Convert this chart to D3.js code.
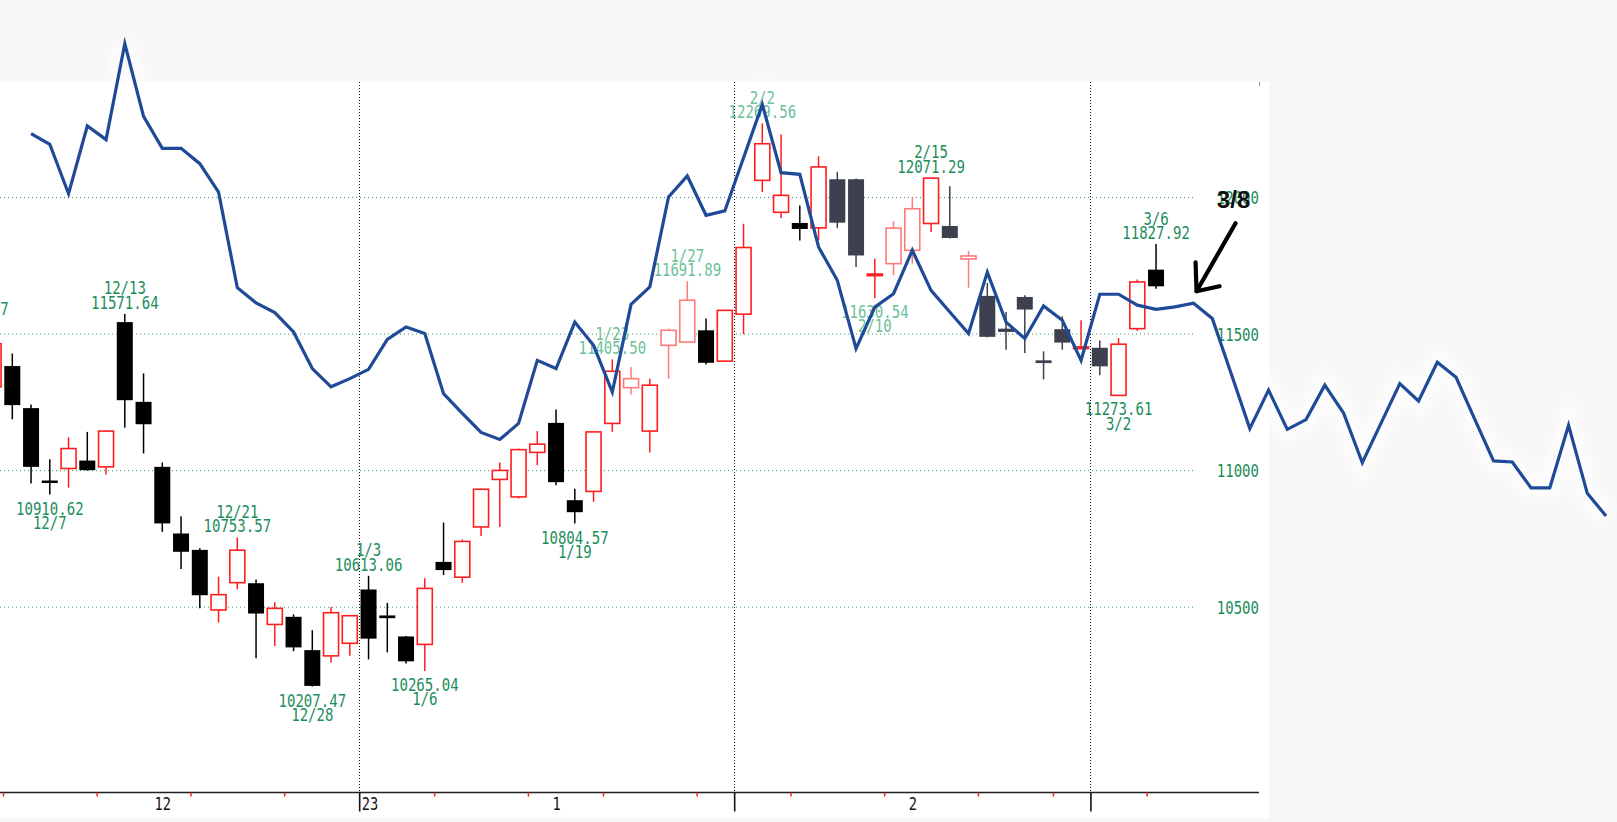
<!DOCTYPE html>
<html><head><meta charset="utf-8">
<script src="https://cdn.jsdelivr.net/npm/d3@7"></script>
<style>html,body{margin:0;padding:0;background:#f7f7f7;overflow:hidden}</style>
</head><body>
<svg id="c" width="1617" height="822"></svg>
<script>
// ---------- data ----------
const dates = [
 "2022-12-01","2022-12-02","2022-12-05","2022-12-06","2022-12-07","2022-12-08","2022-12-09",
 "2022-12-12","2022-12-13","2022-12-14","2022-12-15","2022-12-16","2022-12-19","2022-12-20",
 "2022-12-21","2022-12-22","2022-12-23","2022-12-27","2022-12-28","2022-12-29","2022-12-30",
 "2023-01-03","2023-01-04","2023-01-05","2023-01-06","2023-01-09","2023-01-10","2023-01-11",
 "2023-01-12","2023-01-13","2023-01-17","2023-01-18","2023-01-19","2023-01-20","2023-01-23",
 "2023-01-24","2023-01-25","2023-01-26","2023-01-27","2023-01-30","2023-01-31","2023-02-01",
 "2023-02-02","2023-02-03","2023-02-06","2023-02-07","2023-02-08","2023-02-09","2023-02-10",
 "2023-02-13","2023-02-14","2023-02-15","2023-02-16","2023-02-17","2023-02-21","2023-02-22",
 "2023-02-23","2023-02-24","2023-02-27","2023-02-28","2023-03-01","2023-03-02","2023-03-03",
 "2023-03-06"];
const open  = [11480,11305,11381,11227,10962,11006,11035,11012,11542,11250,11012,10768,10708,10488,
 10588,10586,10435,10463,10341,10320,10366,10563,10468,10391,10362,10664,10608,10792,10966,10902,
 11065,11173,10890,10922,11171,11302,11143,11457,11469,11512,11399,11571,12061,11944,11905,11887,
 12065,12065,11712,11756,11805,11903,11894,11773,11638,11518,11634,11402,11516,11445,11448,11273.61,
 11518,11734];
const high  = [11548.27,11470,11427,11240,11040,11120,11140,11145,11571.64,11354,11028,10831,10714,10610,
 10753.57,10600,10516,10472,10414,10499,10468,10613.06,10514,10393,10604,10808,10746,10932,11028,11079,
 11143,11222,10932,11142,11405.50,11378,11335,11518,11691.89,11555,11587,11902,12269.56,12229,11969,12149,
 12092,12068,11774,11911,11998,12071.29,12039,11803,11685,11579,11640,11435,11563,11549,11475,11484,
 11698,11827.92];
const low   = [11410,11280,11186,10951,10910.62,10936,10998,10984,11155,11061,10774,10638,10494,10442,
 10564,10311,10356,10337,10207.47,10296,10320,10307,10333,10292,10265.04,10616,10587,10759,10792,10896,
 11018,10945,10804.57,10884,11140,11277,11065,11335,11466,11387,11396,11498,12018,11922,11841,11841,
 11886,11744,11630.54,11713,11756,11872,11848,11668,11486,11441,11429,11332,11441,11443,11347,11273.61,
 11510,11664];
const close = [11482,11463,11238,11012,10956,11079,11000,11143,11256,11168,10805,10701,10542,10544,
 10707,10475,10494,10351,10210,10478,10467,10383,10458,10300,10567,10634,10739,10930,10999,11075,
 11095,10956,10846,11140,11362,11335,11311,11512,11622,11393,11585,11815,12195,12006,11883,12110,
 11906,11786,11718,11886,11957,12069,11850,11784,11488,11506,11588,11392,11467,11451,11380,11461,
 11689,11673];

// overlaid comparison line (one value per trading slot, starting at 12/6)
const lineStartDate = "2022-12-06";
const lineValues = [12232,12193,12012,12260,12210,12561,12295,12178,12178,12122,
 12018,11668,11612,11577,11506,11372,11305,11335,11369,11479,
 11524,11500,11280,11208,11138,11112,11171,11402,11372,11542,
 11457,11286,11607,11671,12000,12077,11933,11949,12144,12339,
 12089,12083,11817,11695,11445,11597,11646,11805,11658,11579,
 11500,11725,11542,11482,11601,11549,11402,11644,11644,11604,
 11589,11598,11611,11555,11355,11152,11293,11149,11185,11311,
 11209,11027,11172,11317,11253,11395,11340,11186,11034,11030,
 10935,10935,11164,10915,10832];

const yTicks = [10500, 11000, 11500, 12000];
const monthLabels = ["12", "1", "2"];
const monthLabelDates = ["2022-12-15", "2023-01-18", "2023-02-14"];
const yearLabel = "23";
const highLabelDates = ["2022-12-01","2022-12-13","2022-12-21","2023-01-03","2023-01-23","2023-01-27","2023-02-02","2023-02-15","2023-03-06"];
const lowLabelDates  = ["2022-12-07","2022-12-28","2023-01-06","2023-01-19","2023-02-10","2023-03-02"];
const arrowLabel = "3/8";
const arrowSlotsAfterLast = 2;   // 3/8 is two trading days after 3/6

// style groups
const slateDates = ["2023-02-08","2023-02-09","2023-02-16","2023-02-21","2023-02-22","2023-02-23","2023-02-24","2023-02-27","2023-03-01"];
const fadedRedDates = ["2023-01-24","2023-01-26","2023-01-27","2023-02-13","2023-02-14","2023-02-17"];
const fadedLabelDates = ["2023-01-23","2023-01-27","2023-02-02","2023-02-10"];

// ---------- scales ----------
const svg = d3.select("#c");
const W = 1617, H = 822;
const panelRight = 1269, panelTop = 82, panelBottom = 818;
const axisY = 792.5, gridRight = 1194, yLabelX = 1259;

const x = d3.scaleLinear().domain([0, 63]).range([-25.2, 1156.05]);
const y = d3.scaleLinear().domain([10500, 12000]).range([606.7, 197.0]);

const GREEN = "#1b8c5b", GREEN_FADED = "#6cbf98";
const RED = "#ff1e1e", RED_FADED = "#ff7a7a";
const MONO = "'DejaVu Sans Mono', 'Liberation Mono', monospace";

const parse = d3.timeParse("%Y-%m-%d");
const pd = dates.map(parse);
const md = d => (d.getMonth() + 1) + "/" + d.getDate();
const slot = iso => dates.indexOf(iso);

function condensed(g, px, py, text, opt = {}) {
  const { anchor = "middle", size = 18, sx = 0.78, fill = GREEN } = opt;
  return g.append("text")
    .attr("transform", `translate(${px},${py}) scale(${sx},1)`)
    .attr("text-anchor", anchor)
    .attr("font-family", MONO)
    .attr("font-size", size)
    .attr("fill", fill)
    .text(text);
}

// ---------- background ----------
svg.append("rect").attr("width", W).attr("height", H).attr("fill", "#f7f7f7");
svg.append("rect").attr("x", 0).attr("y", panelTop).attr("width", panelRight).attr("height", panelBottom - panelTop).attr("fill", "#ffffff");

const defs = svg.append("defs");
defs.append("filter").attr("id", "blur").attr("x", "-20%").attr("y", "-20%").attr("width", "140%").attr("height", "140%")
  .append("feGaussianBlur").attr("stdDeviation", 6);
const clip = defs.append("clipPath").attr("id", "outside");
clip.append("rect").attr("x", 0).attr("y", 0).attr("width", W).attr("height", panelTop);
clip.append("rect").attr("x", panelRight).attr("y", 0).attr("width", W - panelRight).attr("height", H);

// ---------- grid ----------
const grid = svg.append("g").attr("transform", "translate(0,0)")
  .call(d3.axisRight(y).tickValues(yTicks).tickSize(gridRight).tickFormat(""));
grid.select(".domain").remove();
grid.selectAll("line").attr("stroke", "#2e9a6c").attr("stroke-dasharray", "1,3").attr("stroke-width", 1);

// y labels
const yl = svg.append("g").attr("transform", `translate(${yLabelX},0)`)
  .call(d3.axisRight(y).tickValues(yTicks).tickSize(0).tickPadding(0).tickFormat(d3.format("d")));
yl.select(".domain").remove();
yl.selectAll("text")
  .attr("x", null).attr("dy", null)
  .attr("transform", "translate(0,6.5) scale(0.78,1)")
  .attr("text-anchor", "end")
  .attr("font-family", MONO).attr("font-size", 18).attr("fill", GREEN);

// boundaries
const weekSlots = [], monthSlots = [];
for (let k = 1; k < pd.length; k++) {
  if (pd[k].getMonth() !== pd[k - 1].getMonth()) monthSlots.push(k - 0.5);
  else if (pd[k].getDay() < pd[k - 1].getDay()) weekSlots.push(k - 0.5);
}

// vertical dotted month lines
svg.append("g").selectAll("line").data(monthSlots).join("line")
  .attr("x1", d => Math.round(x(d)) + 0.5).attr("x2", d => Math.round(x(d)) + 0.5)
  .attr("y1", panelTop).attr("y2", axisY)
  .attr("stroke", "#111").attr("stroke-width", 1).attr("stroke-dasharray", "1,2");

// x axis
svg.append("line").attr("x1", 0).attr("x2", yLabelX).attr("y1", axisY).attr("y2", axisY)
  .attr("stroke", "#222").attr("stroke-width", 1.6);
svg.append("line").attr("x1", yLabelX + 0.5).attr("x2", yLabelX + 0.5).attr("y1", panelTop).attr("y2", panelTop + 4)
  .attr("stroke", "#888");

const wk = svg.append("g").attr("transform", `translate(0,${axisY})`)
  .call(d3.axisBottom(x).tickValues(weekSlots).tickSize(4).tickSizeOuter(0).tickFormat(""));
wk.select(".domain").remove();
wk.selectAll("line").attr("stroke", RED).attr("stroke-width", 1.5);

const mo = svg.append("g").attr("transform", `translate(0,${axisY})`)
  .call(d3.axisBottom(x).tickValues(monthSlots).tickSize(19).tickSizeOuter(0).tickFormat(""));
mo.select(".domain").remove();
mo.selectAll("line").attr("stroke", "#111").attr("stroke-width", 1.6);

const ml = svg.append("g").attr("transform", `translate(0,${axisY})`)
  .call(d3.axisBottom(x).tickValues(monthLabelDates.map(slot)).tickSize(0).tickSizeOuter(0)
    .tickFormat((d, i) => monthLabels[i]));
ml.select(".domain").remove();
ml.selectAll("text").attr("y", null).attr("dy", null)
  .attr("transform", "translate(0,17.5) scale(0.74,1)")
  .attr("font-family", MONO).attr("font-size", 18.5).attr("fill", "#111");

const yearSlot = monthSlots.find(s => pd[Math.ceil(s)].getFullYear() !== pd[Math.floor(s)].getFullYear());
condensed(svg, x(yearSlot) + 2.5, axisY + 17.5, yearLabel, { anchor: "start", size: 18.5, sx: 0.74, fill: "#111" });

// ---------- candles ----------
const cg = svg.append("g");
dates.forEach((iso, k) => {
  const xc = x(k);
  const o = open[k], c = close[k], h = high[k], l = low[k];
  const up = c >= o;
  const top = y(Math.max(o, c)), bot = y(Math.min(o, c));
  if (up) {
    const col = fadedRedDates.includes(iso) ? RED_FADED : RED;
    cg.append("line").attr("x1", xc).attr("x2", xc).attr("y1", y(h)).attr("y2", top).attr("stroke", col).attr("stroke-width", 1.5);
    cg.append("line").attr("x1", xc).attr("x2", xc).attr("y1", bot).attr("y2", y(l)).attr("stroke", col).attr("stroke-width", 1.5);
    cg.append("rect").attr("x", xc - 7.5).attr("y", top).attr("width", 15).attr("height", Math.max(bot - top, 1))
      .attr("fill", "#fff").attr("stroke", col).attr("stroke-width", 1.6);
  } else {
    const col = slateDates.includes(iso) ? "#3d404e" : "#000";
    cg.append("line").attr("x1", xc).attr("x2", xc).attr("y1", y(h)).attr("y2", y(l)).attr("stroke", col).attr("stroke-width", 1.5);
    cg.append("rect").attr("x", xc - 8).attr("y", top).attr("width", 16).attr("height", Math.max(bot - top, 2.5))
      .attr("fill", col);
  }
});

// ---------- high / low labels ----------
const lg = svg.append("g");
highLabelDates.forEach(iso => {
  const k = slot(iso), col = fadedLabelDates.includes(iso) ? GREEN_FADED : GREEN;
  const yy = y(high[k]) - 5;
  condensed(lg, x(k), yy, high[k].toFixed(2), { fill: col });
  condensed(lg, x(k), yy - 14.5, md(pd[k]), { fill: col });
});
lowLabelDates.forEach(iso => {
  const k = slot(iso), col = fadedLabelDates.includes(iso) ? GREEN_FADED : GREEN;
  const yy = y(low[k]) + 20;
  condensed(lg, x(k), yy, low[k].toFixed(2), { fill: col });
  condensed(lg, x(k), yy + 14.5, md(pd[k]), { fill: col });
});

// ---------- overlay line ----------
const s0 = slot(lineStartDate);
const line = d3.line().x((d, j) => x(s0 + j)).y(d => y(d));
svg.append("path").datum(lineValues).attr("d", line)
  .attr("fill", "none").attr("stroke", "#ffffff").attr("stroke-width", 22).attr("opacity", 0.7)
  .attr("filter", "url(#blur)").attr("clip-path", "url(#outside)");
svg.append("path").datum(lineValues).attr("d", line)
  .attr("fill", "none").attr("stroke", "#1e4a97").attr("stroke-width", 3.2)
  .attr("stroke-linejoin", "miter").attr("stroke-miterlimit", 6);

// ---------- 3/8 annotation ----------
const aSlot = dates.length - 1 + arrowSlotsAfterLast;
const ax = x(aSlot), ay = y(lineValues[aSlot - s0]);
const tip = [ax + 3, ay - 12];
const ag = svg.append("g").attr("fill", "none").attr("stroke", "#000").attr("stroke-width", 4.2)
  .attr("stroke-linecap", "round").attr("stroke-linejoin", "round");
ag.append("path").attr("d", d3.line()([[tip[0] + 39, tip[1] - 68], tip]));
ag.append("path").attr("d", d3.line()([[tip[0] - 1, tip[1] - 29], tip, [tip[0] + 23, tip[1] - 5]]));
svg.append("text").attr("x", tip[0] + 37).attr("y", tip[1] - 83)
  .attr("text-anchor", "middle").attr("font-family", "'Liberation Sans', Arial, sans-serif")
  .attr("font-weight", "bold").attr("font-size", 24).attr("fill", "#111").text(arrowLabel);
</script>
</body></html>
